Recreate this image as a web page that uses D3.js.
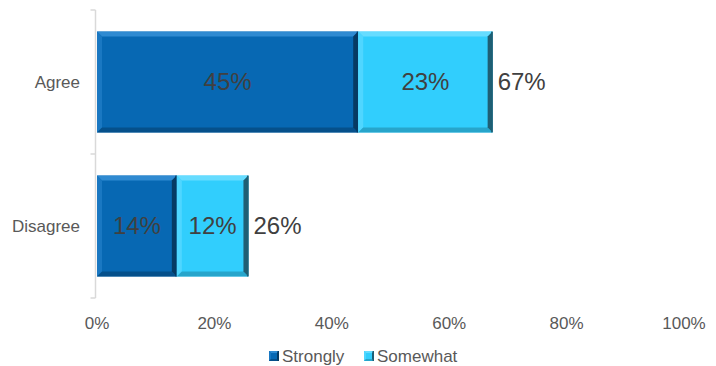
<!DOCTYPE html>
<html>
<head>
<meta charset="utf-8">
<script src="https://cdn.jsdelivr.net/npm/d3@7"></script>
<style>
  body { margin: 0; background: #fff; }
  text { font-family: "Liberation Sans", Arial, sans-serif; }
</style>
</head>
<body>
<div id="chart"></div>
<script>
const categories = ["Agree", "Disagree"];
const strongly = [44.5, 13.6];
const somewhat = [22.9, 12.2];
const seriesNames = ["Strongly", "Somewhat"];
const xTicks = [0, 20, 40, 60, 80, 100];

const W = 716, H = 366;
const plot = {left: 97, right: 684, top: 10, bottom: 298};

const svg = d3.select("#chart")
    .append("svg")
    .attr("width", W)
    .attr("height", H);

const x = d3.scaleLinear().domain([0, 100]).range([plot.left, plot.right]);
const y = d3.scaleBand().domain(categories).range([plot.top, plot.bottom])
    .paddingInner(0.3).paddingOuter(0.15);

// colours: base, top bevel, left bevel, bottom bevel, right bevel
const palette = {
    Strongly: {base: "#0768b3", top: "#2f8ad1", left: "#1a78c2", bottom: "#05508b", right: "#063a63"},
    Somewhat: {base: "#31cefd", top: "#66dcff", left: "#4fd6ff", bottom: "#27a5cb", right: "#1f5f74"}
};

const rows = categories.map((c, i) => ({
    cat: c,
    segs: [
        {name: "Strongly", x0: 0, x1: strongly[i], v: strongly[i]},
        {name: "Somewhat", x0: strongly[i], x1: strongly[i] + somewhat[i], v: somewhat[i]}
    ],
    total: strongly[i] + somewhat[i]
}));

function bevelRect(g, x0, y0, w, h, col, b) {
    const x1 = x0 + w, y1 = y0 + h;
    g.append("rect").attr("x", x0).attr("y", y0).attr("width", w).attr("height", h).attr("fill", col.base);
    const poly = (pts, fill) => g.append("polygon")
        .attr("points", pts.map(p => p.join(",")).join(" "))
        .attr("fill", fill);
    poly([[x0, y0], [x1, y0], [x1 - b, y0 + b], [x0 + b, y0 + b]], col.top);
    poly([[x0, y0], [x0 + b, y0 + b], [x0 + b, y1 - b], [x0, y1]], col.left);
    poly([[x0, y1], [x0 + b, y1 - b], [x1 - b, y1 - b], [x1, y1]], col.bottom);
    poly([[x1, y0], [x1, y1], [x1 - b, y1 - b], [x1 - b, y0 + b]], col.right);
    // thin dark edge on the right
    g.append("rect").attr("x", x1 - 1.5).attr("y", y0).attr("width", 1.5).attr("height", h).attr("fill", col.right);
}

// bars
rows.forEach(r => {
    const g = svg.append("g");
    r.segs.forEach(s => {
        bevelRect(g, x(s.x0), y(r.cat), x(s.x1) - x(s.x0), y.bandwidth(), palette[s.name], 5);
        g.append("text")
            .attr("x", (x(s.x0) + x(s.x1)) / 2)
            .attr("y", y(r.cat) + y.bandwidth() / 2)
            .attr("dy", "0.35em")
            .attr("text-anchor", "middle")
            .style("font-size", "24px")
            .style("fill", "#404040")
            .text(Math.round(s.v) + "%");
    });
    g.append("text")
        .attr("x", x(r.total) + 5)
        .attr("y", y(r.cat) + y.bandwidth() / 2)
        .attr("dy", "0.35em")
        .style("font-size", "24px")
        .style("fill", "#404040")
        .text(Math.round(r.total) + "%");
});

// category axis
const yAxis = svg.append("g")
    .attr("transform", `translate(${plot.left - 1.5},0)`);
yAxis.append("line")
    .attr("y1", plot.top).attr("y2", plot.bottom)
    .attr("stroke", "#d9d9d9").attr("stroke-width", 1.5);
[plot.top, (plot.top + plot.bottom) / 2, plot.bottom].forEach(v => {
    yAxis.append("line")
        .attr("x1", -5).attr("x2", 0)
        .attr("y1", v).attr("y2", v)
        .attr("stroke", "#d9d9d9").attr("stroke-width", 1.5);
});
categories.forEach(c => {
    svg.append("text")
        .attr("x", 80)
        .attr("y", y(c) + y.bandwidth() / 2)
        .attr("dy", "0.35em")
        .attr("text-anchor", "end")
        .style("font-size", "17px")
        .style("fill", "#595959")
        .text(c);
});

// value axis labels
svg.append("g").selectAll("text")
    .data(xTicks)
    .enter()
    .append("text")
    .attr("x", d => x(d))
    .attr("y", 329)
    .attr("text-anchor", "middle")
    .style("font-size", "17px")
    .style("fill", "#595959")
    .text(d => d + "%");

// legend
const legendX = [269, 364];
seriesNames.forEach((n, i) => {
    const g = svg.append("g").attr("transform", `translate(${legendX[i]},351)`);
    bevelRect(g, 0, 0, 10, 10, palette[n], 2);
    g.append("text")
        .attr("x", 13)
        .attr("y", 11)
        .style("font-size", "17px")
        .style("fill", "#595959")
        .text(n);
});
</script>
</body>
</html>
